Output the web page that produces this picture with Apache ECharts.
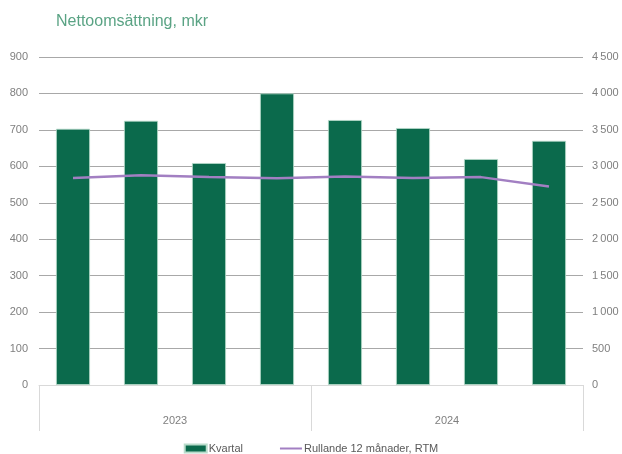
<!DOCTYPE html>
<html>
<head>
<meta charset="utf-8">
<script src="https://cdn.jsdelivr.net/npm/echarts@6/dist/echarts.min.js"></script>
<style>
  html, body { margin: 0; padding: 0; background: #fff; }
  #chart { width: 622px; height: 454px; }
</style>
</head>
<body>
<div id="chart"></div>
<script>
// Quarterly net sales (MSEK) and rolling 12-month total
const quarters = ['Q1 2023', 'Q2 2023', 'Q3 2023', 'Q4 2023', 'Q1 2024', 'Q2 2024', 'Q3 2024', 'Q4 2024'];
const years = ['2023', '2024'];
const kvartal = [703, 725, 609, 800, 727, 705, 620, 670];
const rtm = [2840, 2877, 2853, 2837, 2861, 2841, 2852, 2722];

const leftTicks = { min: 0, max: 900, interval: 100 };
const rightTicks = { min: 0, max: 4500, interval: 500 };

const FONT = 'Liberation Sans';
const labelGray = '#7f7f7f';

const chart = echarts.init(document.getElementById('chart'), null, { renderer: 'canvas' });

function spaced(v) {
  return String(v).replace(/\B(?=(\d{3})+(?!\d))/g, '\u2009');
}

chart.setOption({
  animation: false,
  textStyle: { fontFamily: FONT },
  title: {
    text: 'Nettoomsättning, mkr',
    left: 51,
    top: 9,
    textStyle: { fontFamily: FONT, fontSize: 16, fontWeight: 'normal', color: '#5aa384' }
  },
  grid: { left: 39, right: 39, top: 57, bottom: 69 },
  legend: {
    top: 438,
    left: 'center',
    itemGap: 36,
    itemWidth: 22,
    itemHeight: 8,
    textStyle: { fontFamily: FONT, fontSize: 11, color: '#595959', padding: [0, 0, 0, -3] },
    data: [
      { name: 'Kvartal', icon: 'rect' },
      { name: 'Rullande 12 månader, RTM', itemStyle: { opacity: 0 } }
    ]
  },
  xAxis: [
    {
      type: 'category',
      data: quarters,
      position: 'bottom',
      axisLine: { show: true, lineStyle: { color: '#d9d9d9', width: 1 } },
      axisTick: { show: false },
      axisLabel: { show: false }
    },
    {
      type: 'category',
      data: years,
      position: 'bottom',
      boundaryGap: true,
      axisLine: { show: false },
      axisTick: { show: true, length: 46, lineStyle: { color: '#d9d9d9' } },
      axisLabel: { margin: 30, fontFamily: FONT, fontSize: 11, color: labelGray },
      splitLine: { show: false }
    }
  ],
  yAxis: [
    {
      type: 'value',
      min: leftTicks.min, max: leftTicks.max, interval: leftTicks.interval,
      axisLine: { show: false },
      axisTick: { show: false },
      axisLabel: { margin: 11, fontFamily: FONT, fontSize: 11, color: labelGray },
      splitLine: { lineStyle: { color: '#a8a8a8', width: 1 } }
    },
    {
      type: 'value',
      min: rightTicks.min, max: rightTicks.max, interval: rightTicks.interval,
      axisLine: { show: false },
      axisTick: { show: false },
      axisLabel: { margin: 9, fontFamily: FONT, fontSize: 11, color: labelGray, formatter: spaced },
      splitLine: { show: false }
    }
  ],
  series: [
    {
      name: 'Kvartal',
      type: 'bar',
      xAxisIndex: 0,
      yAxisIndex: 0,
      data: kvartal,
      barWidth: '50%',
      itemStyle: { color: '#0b6a4c', borderColor: '#b9dccb', borderWidth: 0.8 }
    },
    {
      name: 'Rullande 12 månader, RTM',
      type: 'line',
      xAxisIndex: 0,
      yAxisIndex: 1,
      data: rtm,
      symbol: 'none',
      smooth: false,
      lineStyle: { color: '#a27fc2', width: 2.5 },
      itemStyle: { color: '#a27fc2' }
    }
  ]
});
</script>
</body>
</html>
